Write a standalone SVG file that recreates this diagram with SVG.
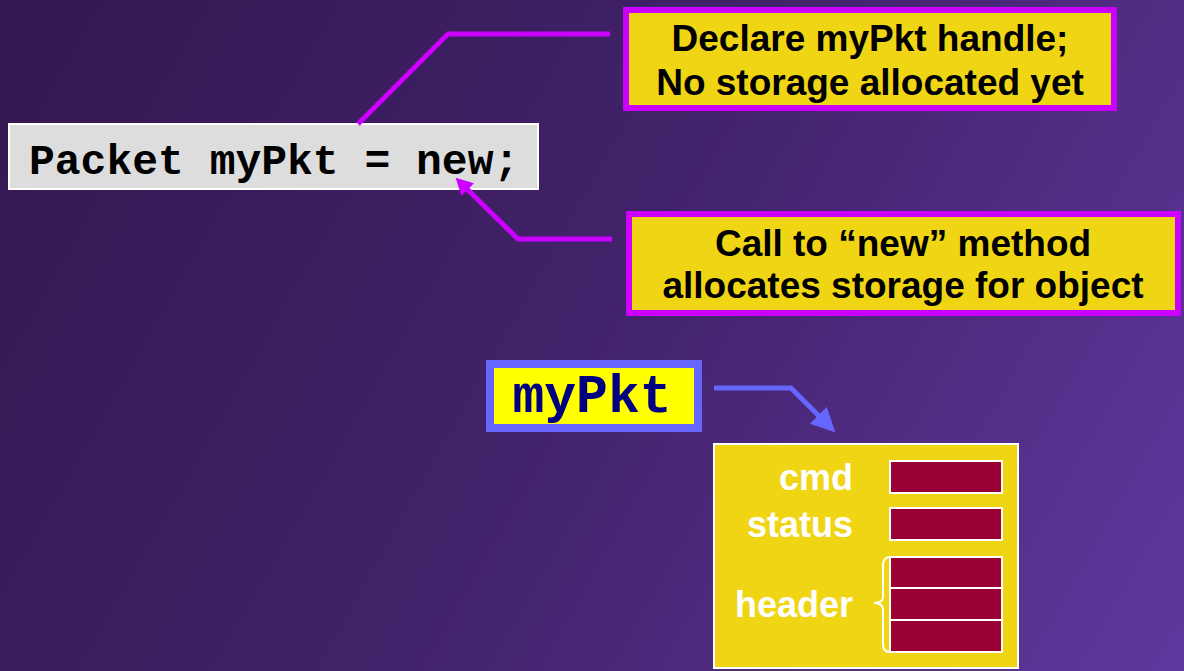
<svg xmlns="http://www.w3.org/2000/svg" width="1184" height="671" viewBox="0 0 1184 671">
  <defs>
    <linearGradient id="bg" x1="0" y1="0" x2="1184" y2="671" gradientUnits="userSpaceOnUse">
      <stop offset="0" stop-color="#341750"/>
      <stop offset="0.5" stop-color="#42226a"/>
      <stop offset="1" stop-color="#60389e"/>
    </linearGradient>
    <!-- arrowheads: reference point sits on the base so the shaft stops there -->
    <marker id="headMagenta" markerUnits="userSpaceOnUse" markerWidth="20" markerHeight="20" refX="1" refY="9" orient="auto">
      <path d="M0,0 L17,9 L0,18 Z" fill="#cc00ff"/>
    </marker>
    <marker id="headBlue" markerUnits="userSpaceOnUse" markerWidth="26" markerHeight="26" refX="1" refY="12" orient="auto">
      <path d="M0,0 L24,12 L0,24 Z" fill="#6666ff"/>
    </marker>
    <style>
      .callout rect { fill: #f0d515; stroke: #cc00ff; stroke-width: 6; }
      .callout text { font-family: "Liberation Sans", Arial, sans-serif; font-weight: bold; font-size: 37px; fill: #000; text-anchor: middle; }
      .code { font-family: "Liberation Mono", "Courier New", monospace; font-weight: bold; }
      .field { fill: #990033; stroke: #ffffff; stroke-width: 2; }
      .label { font-family: "Liberation Sans", Arial, sans-serif; font-weight: bold; font-size: 36px; fill: #ffffff; text-anchor: end; }
      .wire { fill: none; stroke-width: 5; stroke-linejoin: miter; }
    </style>
  </defs>

  <rect width="1184" height="671" fill="url(#bg)"/>

  <!-- statement -->
  <g id="statement">
    <rect x="9" y="124" width="529" height="65" fill="#dddddd" stroke="#ffffff" stroke-width="2"/>
    <text class="code" x="29" y="174" font-size="43" fill="#000000">Packet myPkt = new;</text>
  </g>

  <!-- note: declaration -->
  <g id="note-declare" class="callout">
    <rect x="626" y="10" width="488" height="98"/>
    <text x="870" y="51">Declare myPkt handle;</text>
    <text x="870" y="95">No storage allocated yet</text>
  </g>

  <!-- note: new call -->
  <g id="note-new" class="callout">
    <rect x="629" y="214" width="549" height="99"/>
    <text x="903" y="256">Call to “new” method</text>
    <text x="903" y="298">allocates storage for object</text>
  </g>

  <!-- handle variable -->
  <g id="handle">
    <rect x="490" y="364" width="208" height="64" fill="#ffff00" stroke="#6666ff" stroke-width="8"/>
    <text class="code" x="592" y="412" font-size="53" fill="#000080" text-anchor="middle">myPkt</text>
  </g>

  <!-- packet object -->
  <g id="packet">
    <rect x="714" y="444" width="304" height="224" fill="#f0d515" stroke="#ffffff" stroke-width="2"/>
    <text class="label" x="853" y="490">cmd</text>
    <rect class="field" x="890" y="461" width="112" height="32"/>
    <text class="label" x="853" y="537">status</text>
    <rect class="field" x="890" y="508" width="112" height="32"/>
    <text class="label" x="853" y="617">header</text>
    <rect class="field" x="890" y="557" width="112" height="31"/>
    <rect class="field" x="890" y="588" width="112" height="32"/>
    <rect class="field" x="890" y="620" width="112" height="32"/>
    <path d="M890,557 Q883,557 883,566 L883,597 Q883,603 874,603 Q883,603 883,610 L883,644 Q883,652 890,652" fill="none" stroke="#ffffff" stroke-width="2"/>
  </g>

  <!-- connectors -->
  <g id="connectors">
    <polyline class="wire" stroke="#cc00ff" points="610,34 448,34 358,124"/>
    <polyline class="wire" stroke="#cc00ff" points="612,239 518,239 467,189" marker-end="url(#headMagenta)"/>
    <polyline class="wire" stroke="#6666ff" stroke-width="8" points="714,388 791,388 819,416" marker-end="url(#headBlue)"/>
  </g>
</svg>
